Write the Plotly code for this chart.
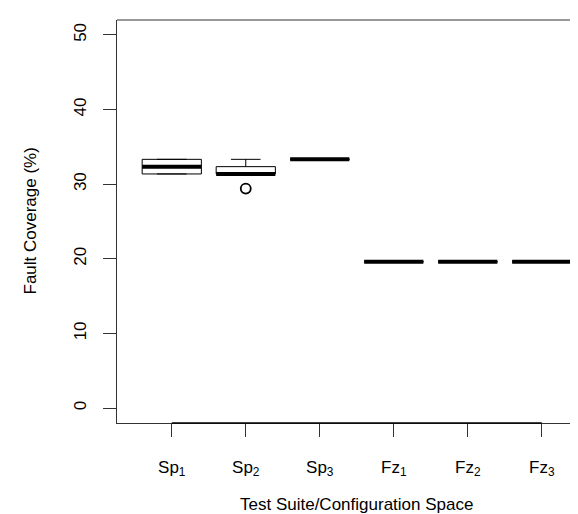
import plotly.graph_objects as go

# ---- data (fault coverage, %) ----
categories = ["Sp<sub>1</sub>", "Sp<sub>2</sub>", "Sp<sub>3</sub>",
              "Fz<sub>1</sub>", "Fz<sub>2</sub>", "Fz<sub>3</sub>"]
positions = [1, 2, 3, 4, 5, 6]
lower_whisker = [31.37, 31.37, 33.33, 19.61, 19.61, 19.61]
q1_vals       = [31.37, 31.37, 33.33, 19.61, 19.61, 19.61]
median_vals   = [32.35, 31.37, 33.33, 19.61, 19.61, 19.61]
q3_vals       = [33.33, 32.35, 33.33, 19.61, 19.61, 19.61]
upper_whisker = [33.33, 33.33, 33.33, 19.61, 19.61, 19.61]
outlier_x = [2]
outlier_y = [29.41]
y_ticks = [0, 10, 20, 30, 40, 50]

FONT = "Liberation Sans, Arial, Helvetica, sans-serif"
BOXW = 0.8

fig = go.Figure()
fig.add_trace(go.Box(
    x=positions, q1=q1_vals, median=median_vals, q3=q3_vals,
    lowerfence=lower_whisker, upperfence=upper_whisker,
    width=BOXW, whiskerwidth=0.5, boxpoints=False,
    fillcolor="rgba(255,255,255,0)", line=dict(color="black", width=1),
    showlegend=False, hoverinfo="skip"))

for p, m in zip(positions, median_vals):
    fig.add_trace(go.Scatter(
        x=[p - BOXW / 2, p + BOXW / 2], y=[m, m], mode="lines",
        line=dict(color="black", width=4), showlegend=False, hoverinfo="skip"))

fig.add_trace(go.Scatter(
    x=outlier_x, y=outlier_y, mode="markers",
    marker=dict(symbol="circle-open", size=10, color="black", line=dict(width=1.8)),
    showlegend=False, hoverinfo="skip"))

W, H = 578, 514
L, T, B = 109, 12, 99
plot_w = W - L
plot_h = H - T - B
x_lo = 0.26
unit = 74.0
x_hi = x_lo + plot_w / unit

fig.update_layout(
    width=W, height=H,
    margin=dict(l=L, r=0, t=T, b=B, autoexpand=False),
    paper_bgcolor="white", plot_bgcolor="white",
    font=dict(family=FONT, size=17, color="black"),
    xaxis=dict(range=[x_lo, x_hi], tickvals=positions, ticktext=categories,
               automargin=False,
               showgrid=False, zeroline=False, showline=True, linecolor="#333",
               linewidth=1.2, ticks="outside", ticklen=13, tickwidth=1.2,
               tickcolor="#333", ticklabelstandoff=15,
               tickfont=dict(family=FONT, size=17)),
    yaxis=dict(range=[-2, 52], tickvals=y_ticks, showgrid=False, zeroline=False,
               automargin=False,
               showline=True, linecolor="#333", linewidth=1.2, ticks="outside",
               ticklen=13, tickwidth=1.2, tickcolor="#333", tickangle=-90,
               ticklabelstandoff=10, tickfont=dict(family=FONT, size=17)),
    shapes=[dict(type="line", xref="paper", yref="paper", x0=0, x1=1, y0=1, y1=1,
                 line=dict(color="#333", width=1.2)),
            dict(type="line", xref="x", yref="paper", x0=positions[0], x1=positions[-1],
                 y0=0, y1=0, line=dict(color="black", width=1.4))],
    annotations=[
        dict(text="Test Suite/Configuration Space", xref="x", yref="paper",
             x=(0.26 + 6.74) / 2, y=-(497 - (H - B)) / plot_h,
             xanchor="center", yanchor="middle", showarrow=False,
             font=dict(family=FONT, size=17)),
        dict(text="Fault Coverage (%)", xref="paper", yref="paper",
             x=(22 - L) / plot_w, y=0.5, textangle=-90,
             xanchor="center", yanchor="middle", showarrow=False,
             font=dict(family=FONT, size=17)),
    ],
)

fig.write_html("out.html")
